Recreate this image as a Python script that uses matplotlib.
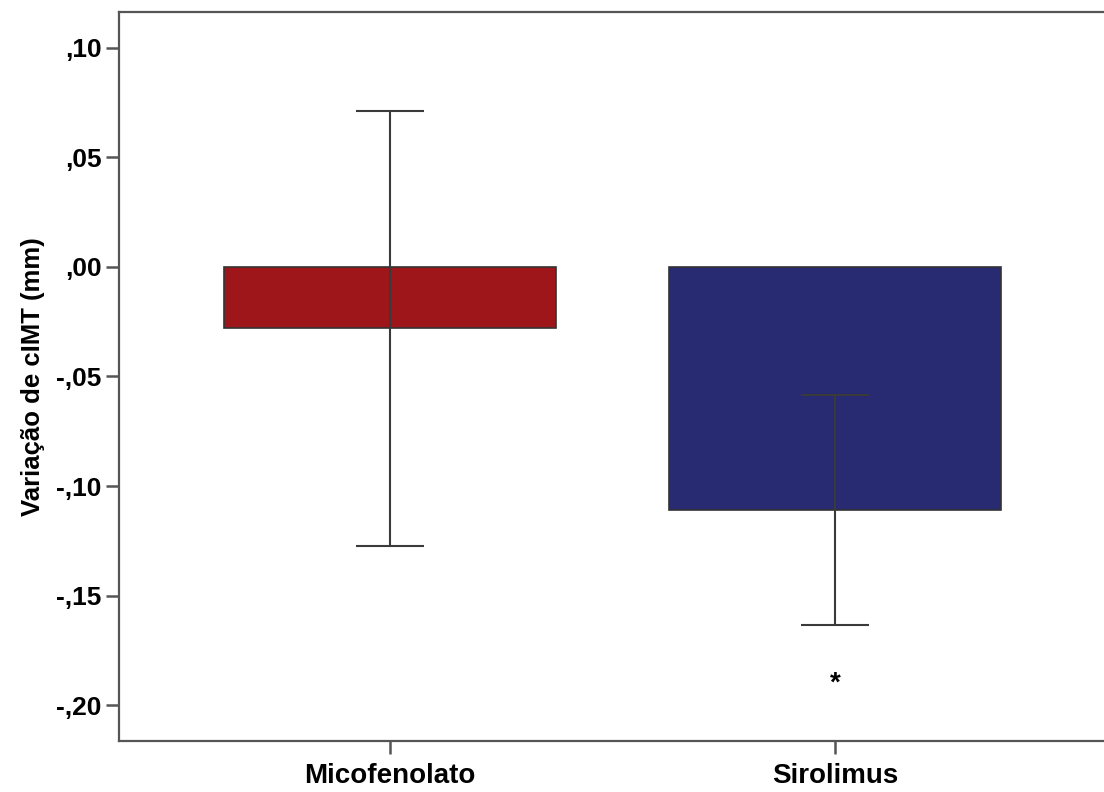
import matplotlib
matplotlib.use("Agg")
import matplotlib.pyplot as plt

categories = ["Micofenolato", "Sirolimus"]
means = [-0.028, -0.111]
ci_low = [-0.1274, -0.1635]
ci_high = [0.0712, -0.0584]
bar_colors = ["#9E161A", "#282A72"]
yticks = [0.10, 0.05, 0.00, -0.05, -0.10, -0.15, -0.20]
ytick_labels = [",10", ",05", ",00", "-,05", "-,10", "-,15", "-,20"]
star_y = -0.1904

plt.rcParams["font.family"] = ["Liberation Sans", "DejaVu Sans"]
plt.rcParams["font.weight"] = "bold"

fig = plt.figure(figsize=(11.04, 7.92), dpi=100)
ax = fig.add_axes([119 / 1104, 51 / 792, 987 / 1104, 729 / 792])

x = list(range(len(categories)))
ax.bar(x, means, width=0.748, color=bar_colors, edgecolor="#333333", linewidth=1.2, zorder=2)

err_low = [m - lo for m, lo in zip(means, ci_low)]
err_high = [hi - m for m, hi in zip(means, ci_high)]
ax.errorbar(x, means, yerr=[err_low, err_high], fmt="none", ecolor="#3a3a3a",
            elinewidth=1.5, capsize=24.5, capthick=1.5, zorder=3)

ax.text(1, star_y, "*", ha="center", va="center", fontsize=20, fontweight="bold")

ax.set_xlim(-0.609, 1.609)
ax.set_ylim(-0.2164, 0.1164)
ax.set_xticks(x)
ax.set_xticklabels(categories, fontsize=20)
ax.set_yticks(yticks)
ax.set_yticklabels(ytick_labels, fontsize=19)
ax.set_ylabel("Variação de cIMT (mm)", fontsize=18.5, fontweight="bold", labelpad=8)

for side in ["left", "bottom", "top", "right"]:
    ax.spines[side].set_color("#555555")
    ax.spines[side].set_linewidth(1.6)
ax.tick_params(axis="both", length=9.5, width=1.8, color="#555555", pad=3)
ax.tick_params(axis="x", pad=6)

fig.savefig("out.png", dpi=100)
